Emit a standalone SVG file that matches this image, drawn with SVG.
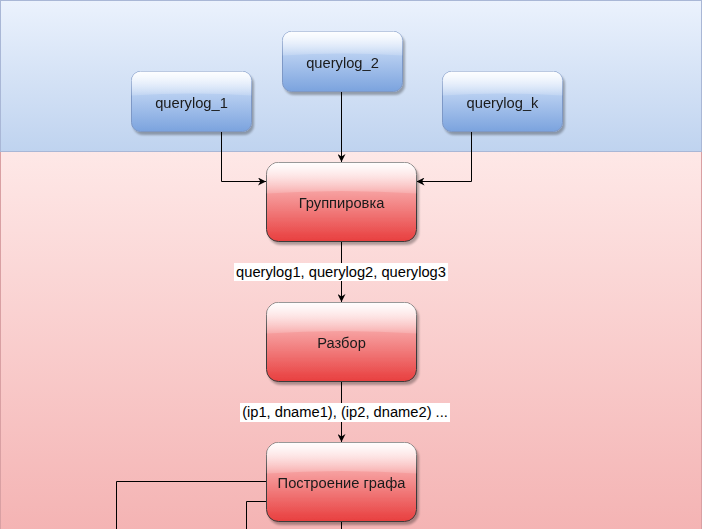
<svg xmlns="http://www.w3.org/2000/svg" width="703" height="529" viewBox="0 0 703 529">
<defs>
<linearGradient id="bgTop" x1="0" y1="0" x2="0" y2="1">
<stop offset="0" stop-color="#ebf2fd"/>
<stop offset="1" stop-color="#bfd3ef"/>
</linearGradient>
<linearGradient id="bgBot" x1="0" y1="0" x2="0" y2="1">
<stop offset="0" stop-color="#fee8e7"/>
<stop offset="1" stop-color="#f4b2b2"/>
</linearGradient>
<linearGradient id="gBlue" x1="0" y1="0" x2="0" y2="1">
<stop offset="0" stop-color="#dce9fc"/>
<stop offset="1" stop-color="#7ba3de"/>
</linearGradient>
<linearGradient id="gRed" x1="0" y1="0" x2="0" y2="1">
<stop offset="0" stop-color="#ffd9d9"/>
<stop offset="1" stop-color="#e83e3e"/>
</linearGradient>
<linearGradient id="gloss" x1="0" y1="0" x2="0" y2="1">
<stop offset="0" stop-color="#ffffff" stop-opacity="0.95"/>
<stop offset="1" stop-color="#ffffff" stop-opacity="0.15"/>
</linearGradient>
<filter id="sh" x="-10%" y="-10%" width="130%" height="130%">
<feGaussianBlur in="SourceAlpha" stdDeviation="1"/>
<feOffset dx="2" dy="3"/>
<feComponentTransfer><feFuncA type="linear" slope="0.3"/></feComponentTransfer>
<feMerge><feMergeNode/><feMergeNode in="SourceGraphic"/></feMerge>
</filter>
<marker id="arr" viewBox="0 0 10 10" refX="10" refY="5" markerWidth="8" markerHeight="8" markerUnits="userSpaceOnUse" orient="auto">
<path d="M0,0 L10,5 L0,10 L3,5 Z" fill="#000"/>
</marker>
</defs>
<style>
.blue{fill:url(#gBlue);stroke:#7d98c6;stroke-width:1}
.red{fill:url(#gRed);stroke:#3a3a3a;stroke-width:1}
.gl{fill:url(#gloss)}
.t{font-family:"Liberation Sans",Arial,sans-serif;font-size:14.7px;fill:#1a1a1a;text-anchor:middle}
.lbl{font-family:"Liberation Sans",Arial,sans-serif;font-size:14.7px;fill:#000;text-anchor:middle}
.edge{fill:none;stroke:#000;stroke-width:1}
</style>

<g id="background">
<rect x="0.5" y="151" width="701" height="390" fill="url(#bgBot)" stroke="#d9a0a3" stroke-width="1"/>
<rect x="0.5" y="0.5" width="701" height="151" fill="url(#bgTop)" stroke="#a9b7d6" stroke-width="1"/>
</g>

<g id="connectors">
<path class="edge" d="M221.5,131 V181.5 H266" marker-end="url(#arr)"/>
<path class="edge" d="M341.5,91 V162" marker-end="url(#arr)"/>
<path class="edge" d="M471.5,131 V181.5 H416.5" marker-end="url(#arr)"/>
<path class="edge" d="M341.5,241 V302" marker-end="url(#arr)"/>
<path class="edge" d="M341.5,382 V442" marker-end="url(#arr)"/>
<path class="edge" d="M266,481.5 H116.5 V530"/>
<path class="edge" d="M266,501.5 H246.5 V530"/>
<path class="edge" d="M341.5,522 V530"/>
<rect x="234" y="263" width="214" height="18" fill="#ffffff"/>
<text class="lbl" x="341" y="276.5">querylog1, querylog2, querylog3</text>
<rect x="240" y="403" width="210" height="19" fill="#ffffff"/>
<text class="lbl" x="345" y="417">(ip1, dname1), (ip2, dname2) ...</text>
</g>

<g id="querylog_1" filter="url(#sh)">
<rect class="blue" x="131.5" y="71.5" width="120" height="60" rx="9"/>
<path class="gl" d="M131.5,80.5 a9,9 0 0 1 9,-9 h102 a9,9 0 0 1 9,9 v15 q-60,-4 -120,0 Z"/>
<text class="t" x="191.5" y="108">querylog_1</text>
</g>

<g id="querylog_2" filter="url(#sh)">
<rect class="blue" x="282.5" y="31.5" width="120" height="60" rx="9"/>
<path class="gl" d="M282.5,40.5 a9,9 0 0 1 9,-9 h102 a9,9 0 0 1 9,9 v15 q-60,-4 -120,0 Z"/>
<text class="t" x="342.5" y="68">querylog_2</text>
</g>

<g id="querylog_k" filter="url(#sh)">
<rect class="blue" x="442.5" y="71.5" width="120" height="60" rx="9"/>
<path class="gl" d="M442.5,80.5 a9,9 0 0 1 9,-9 h102 a9,9 0 0 1 9,9 v15 q-60,-4 -120,0 Z"/>
<text class="t" x="502.5" y="108">querylog_k</text>
</g>

<g id="grouping" filter="url(#sh)">
<rect class="red" x="266.5" y="162.5" width="150" height="79" rx="12"/>
<path class="gl" d="M266.5,174.5 a12,12 0 0 1 12,-12 h126 a12,12 0 0 1 12,12 v19 q-75,-5 -150,0 Z"/>
<text class="t" x="341.5" y="207.5">Группировка</text>
</g>

<g id="parsing" filter="url(#sh)">
<rect class="red" x="266.5" y="302.5" width="150" height="79" rx="12"/>
<path class="gl" d="M266.5,314.5 a12,12 0 0 1 12,-12 h126 a12,12 0 0 1 12,12 v19 q-75,-5 -150,0 Z"/>
<text class="t" x="341.5" y="347.5">Разбор</text>
</g>

<g id="graph_build" filter="url(#sh)">
<rect class="red" x="266.5" y="442.5" width="150" height="79" rx="12"/>
<path class="gl" d="M266.5,454.5 a12,12 0 0 1 12,-12 h126 a12,12 0 0 1 12,12 v19 q-75,-5 -150,0 Z"/>
<text class="t" x="341.5" y="487.5">Построение графа</text>
</g>
</svg>
